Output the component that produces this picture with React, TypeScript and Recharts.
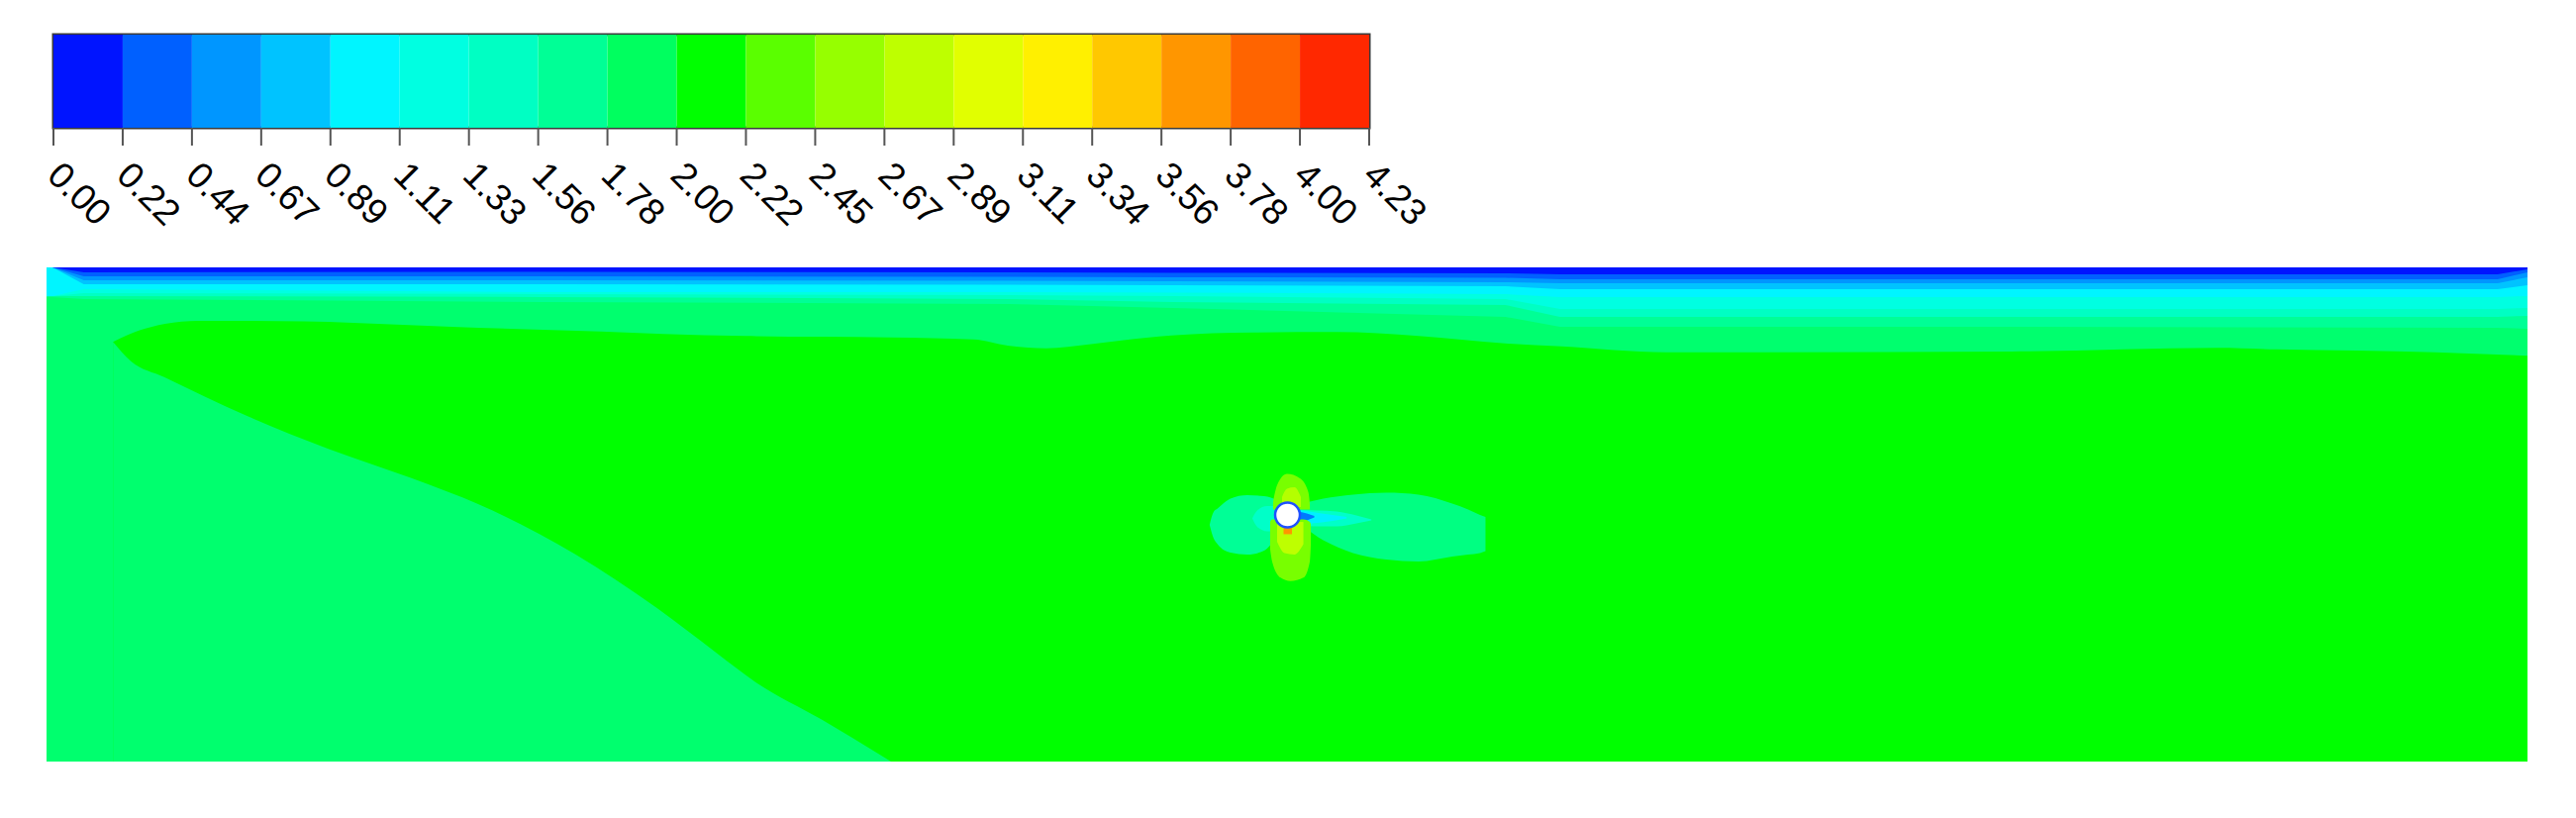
import React from "react";
import { Area, Bar, BarChart, ComposedChart, ReferenceArea, Scatter, XAxis, YAxis } from "recharts";

// colour bar: contour levels and band fills
const levelLabels = [
  "0.00", "0.22", "0.44", "0.67", "0.89", "1.11", "1.33", "1.56", "1.78", "2.00",
  "2.22", "2.45", "2.67", "2.89", "3.11", "3.34", "3.56", "3.78", "4.00", "4.23",
];
const bandColors = [
  "#0014FF", "#0060FF", "#0096FF", "#00C3FF", "#00F5FF", "#00FFE1", "#00FFC3",
  "#00FF96", "#00FF5F", "#00FF00", "#5AFF00", "#96FF00", "#BEFF00", "#E1FF00",
  "#FFF000", "#FFC800", "#FF9600", "#FF6400", "#FF2800",
];

// field: channel 50 x 10, y measured up from the bed
const fieldLight = "#00FF6E";
const fieldGreen = "#00FF00";

// upper edge of the 2.00–2.22 region  [x, y]
const greenUpper = [
  [1.34, 8.49], [1.86, 8.72], [2.39, 8.86], [3.05, 8.92], [5.18, 8.91], [7.18, 8.84],
  [8.17, 8.8], [9.84, 8.74], [11.17, 8.7], [12.43, 8.65], [14.09, 8.61], [17.02, 8.58],
  [18.68, 8.54], [19.41, 8.41], [20.15, 8.36], [21.01, 8.44], [21.67, 8.52], [22.67, 8.62],
  [24.34, 8.68], [26.0, 8.69], [27.65, 8.61], [29.39, 8.46], [30.53, 8.4], [32.64, 8.28],
  [39.96, 8.3], [43.75, 8.37], [44.95, 8.34], [48.14, 8.28], [50, 8.21],
];
// lower edge of the same region
const greenLower = [
  [1.34, 8.49], [1.7, 8.1], [2.37, 7.78], [3.2, 7.38], [4.03, 7.0], [5.68, 6.33],
  [7.34, 5.74], [8.99, 5.08], [10.65, 4.2], [12.31, 3.1], [13.5, 2.2], [14.3, 1.6],
  [15.62, 0.85], [17.02, 0],
];

// free-surface layers: lower edge of each band at these x
const surfaceX = [0, 0.12, 0.75, 10, 19.4, 22.7, 29.4, 30.5, 40, 49.4, 50];
const surfaceEdges = [
  { band: 7, edge: [9.4, 9.4, 9.36, 9.3, 9.26, 9.18, 9.0, 8.8, 8.8, 8.78, 8.76] },
  { band: 6, edge: [9.42, 9.42, 9.42, 9.4, 9.36, 9.3, 9.24, 9.0, 9.0, 9.0, 9.02] },
  { band: 5, edge: [9.42, 9.42, 9.48, 9.46, 9.44, 9.42, 9.36, 9.16, 9.16, 9.16, 9.18] },
  { band: 4, edge: [9.42, 9.42, 9.56, 9.5, 9.5, 9.49, 9.46, 9.4, 9.4, 9.4, 9.42] },
  { band: 3, edge: [10, 10, 9.66, 9.66, 9.65, 9.64, 9.62, 9.56, 9.56, 9.56, 9.64] },
  { band: 2, edge: [10, 10, 9.74, 9.74, 9.73, 9.72, 9.7, 9.68, 9.68, 9.68, 9.8] },
  { band: 1, edge: [10, 10, 9.82, 9.82, 9.81, 9.8, 9.79, 9.76, 9.76, 9.76, 9.9] },
  { band: 0, edge: [10, 10, 9.9, 9.91, 9.9, 9.89, 9.88, 9.86, 9.86, 9.86, 9.96] },
];

// patches around the cylinder  [x, low, high]
const wakeOuter = [
  [25.2, 4.75, 5.2], [25.33, 4.72, 5.23], [25.73, 4.48, 5.32], [26.33, 4.22, 5.4],
  [27.0, 4.09, 5.44], [27.65, 4.05, 5.4], [28.33, 4.15, 5.22], [28.65, 4.19, 5.1],
  [28.89, 4.22, 4.99], [29.0, 4.26, 4.95],
];
const wakeInner = [
  [25.2, 4.78, 5.1], [25.6, 4.76, 5.08], [26.0, 4.76, 5.06], [26.4, 4.82, 4.98], [26.7, 4.88, 4.9],
];
const wakeCore = [[25.2, 4.8, 5.1], [25.7, 4.84, 5.02], [26.2, 4.92, 4.95]];
const wakeBlue = [[25.2, 4.84, 5.06], [25.4, 4.88, 5.02], [25.55, 4.94, 4.97]];
const frontLobe = [
  [23.44, 4.79, 4.79], [23.52, 4.52, 5.05], [23.6, 4.4, 5.12], [23.86, 4.23, 5.32],
  [24.2, 4.19, 5.39], [24.54, 4.27, 5.37], [24.81, 4.55, 5.29], [25.0, 4.7, 5.2],
];
const frontCore = [[24.3, 4.92, 4.92], [24.4, 4.75, 5.08], [24.6, 4.66, 5.17], [24.8, 4.66, 5.17], [25.0, 4.7, 5.1]];
const topLobe = [
  [24.72, 5.1, 5.25], [24.8, 5.1, 5.59], [25.0, 5.1, 5.82], [25.26, 5.1, 5.73], [25.43, 5.1, 5.45], [25.46, 5.1, 5.2],
];
const topCore = [[24.9, 5.15, 5.35], [25.0, 5.15, 5.52], [25.15, 5.15, 5.55], [25.28, 5.15, 5.35]];
const bottomLobe = [
  [24.66, 4.3, 4.85], [24.7, 4.05, 4.9], [24.87, 3.72, 4.9], [25.07, 3.65, 4.9],
  [25.33, 3.72, 4.9], [25.46, 4.05, 4.85], [25.48, 4.4, 4.8],
];
const bottomCore = [[24.8, 4.45, 4.85], [24.95, 4.22, 4.85], [25.15, 4.19, 4.85], [25.33, 4.4, 4.85]];
const bottomSpot = [[24.93, 4.6, 4.8], [25.1, 4.6, 4.8]];
const cylinder = [{ x: 25.01, y: 4.99 }];

const levelIdx = levelLabels.map((_, i) => i);
const barRow: Record<string, number | string> = { name: "bar" };
bandColors.forEach((_, i) => (barRow["b" + i] = 1));

const pts = (a: number[][]) => a.map(([x, y]) => ({ x, y }));
const rng = (a: number[][]) => a.map(([x, lo, hi]) => ({ x, r: [lo, hi] }));

function LevelTick(props: any) {
  const { x, y, payload } = props;
  const ax = x - 8;
  const ay = y + 30;
  return (
    <text
      x={ax}
      y={ay}
      transform={`rotate(45 ${ax} ${ay})`}
      fontSize={37}
      fontFamily="'Liberation Sans', Arial, sans-serif"
      fill="#000"
      textAnchor="start"
    >
      {levelLabels[payload.value]}
    </text>
  );
}

export default function App() {
  const areaProps = {
    stroke: "none",
    fillOpacity: 1,
    isAnimationActive: false,
    dot: false,
    activeDot: false,
  } as const;

  const patch = (data: number[][], color: string, key: string, type: any = "monotone") => (
    <Area key={key} data={rng(data)} dataKey="r" type={type} fill={color} {...areaProps} />
  );

  return (
    <div style={{ position: "absolute", left: 0, top: 0, width: 2602, height: 826, background: "#fff" }}>
      <div style={{ position: "absolute", left: 0, top: 0 }}>
        <BarChart
          width={1500}
          height={260}
          data={[barRow]}
          layout="vertical"
          barCategoryGap={0}
          margin={{ top: 35, right: 117, bottom: 101, left: 54 }}
        >
          <XAxis
            type="number"
            domain={[0, 19]}
            ticks={levelIdx}
            interval={0}
            axisLine={false}
            tickSize={18}
            tickLine={{ stroke: "#555", strokeWidth: 2 }}
            tick={<LevelTick />}
            height={30}
          />
          <YAxis type="category" dataKey="name" hide />
          {bandColors.map((c, i) => (
            <Bar key={i} dataKey={"b" + i} stackId="cb" fill={c} isAnimationActive={false} />
          ))}
          <ReferenceArea x1={0} x2={19} fill="none" stroke="#3a3a3a" strokeWidth={3} ifOverflow="visible" />
        </BarChart>
      </div>

      <div style={{ position: "absolute", left: 47, top: 270 }}>
        <ComposedChart width={2506} height={499} margin={{ top: 0, right: 0, bottom: 0, left: 0 }}>
          <XAxis type="number" dataKey="x" domain={[0, 50]} hide allowDataOverflow />
          <YAxis type="number" domain={[0, 10]} hide allowDataOverflow />
          <Area data={rng([[0, 0, 10], [50, 0, 10]])} dataKey="r" type="linear" fill={fieldLight} {...areaProps} />
          <Area data={pts(greenUpper)} dataKey="y" type="monotone" baseValue={0} fill={fieldGreen} {...areaProps} />
          <Area data={pts(greenLower)} dataKey="y" type="monotone" baseValue={0} fill={fieldLight} {...areaProps} />
          {surfaceEdges.map((s) =>
            patch(
              surfaceX.map((x, i) => [x, s.edge[i], 10]),
              bandColors[s.band],
              "s" + s.band,
              "linear"
            )
          )}
          {patch(wakeOuter, "#00FF82", "wo")}
          {patch(frontLobe, "#00FF96", "fl")}
          {patch(frontCore, "#00FFC8", "fc")}
          {patch(wakeInner, "#00FFC8", "wi")}
          {patch(wakeCore, "#00F0FF", "wc")}
          {patch(wakeBlue, "#0078FF", "wb")}
          {patch(topLobe, "#78FF00", "tl")}
          {patch(topCore, "#B4FF00", "tc")}
          {patch(bottomLobe, "#78FF00", "bl")}
          {patch(bottomCore, "#BEFF00", "bc")}
          {patch(bottomSpot, "#FF9600", "bs")}
          <Scatter
            data={cylinder}
            dataKey="y"
            isAnimationActive={false}
            shape={(p: any) => (
              <circle cx={p.cx} cy={p.cy} r={12.5} fill="#fff" stroke="#1E50FF" strokeWidth={2.5} />
            )}
          />
        </ComposedChart>
      </div>
    </div>
  );
}
